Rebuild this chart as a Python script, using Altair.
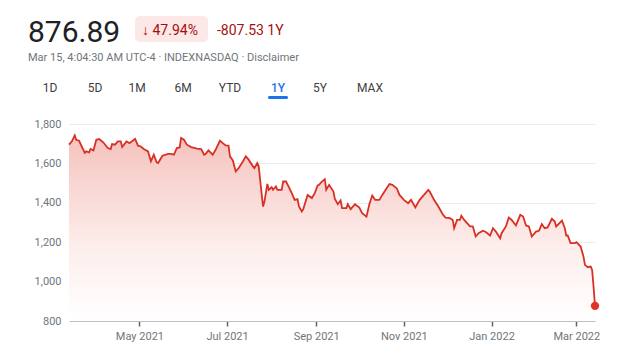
import altair as alt
import pandas as pd

dates = [
    "2021-03-13", "2021-03-15", "2021-03-17", "2021-03-18", "2021-03-20", "2021-03-24", "2021-03-25", "2021-03-27", "2021-03-28", "2021-03-30",
    "2021-04-01", "2021-04-03", "2021-04-06", "2021-04-07", "2021-04-09", "2021-04-11", "2021-04-12", "2021-04-14", "2021-04-16", "2021-04-18",
    "2021-04-19", "2021-04-22", "2021-04-24", "2021-04-28", "2021-04-30",
    "2021-05-02", "2021-05-04", "2021-05-07", "2021-05-09", "2021-05-11", "2021-05-13", "2021-05-14", "2021-05-17", "2021-05-21", "2021-05-23",
    "2021-05-25", "2021-05-27", "2021-05-29", "2021-05-30",
    "2021-06-01", "2021-06-03", "2021-06-06", "2021-06-10", "2021-06-13", "2021-06-15", "2021-06-16", "2021-06-18", "2021-06-21", "2021-06-23",
    "2021-06-26", "2021-06-28", "2021-06-30",
    "2021-07-02", "2021-07-03", "2021-07-05", "2021-07-07", "2021-07-09", "2021-07-12", "2021-07-14", "2021-07-16", "2021-07-19", "2021-07-20",
    "2021-07-22", "2021-07-23", "2021-07-24", "2021-07-26", "2021-07-27", "2021-07-29", "2021-07-30",
    "2021-08-01", "2021-08-02", "2021-08-04", "2021-08-05", "2021-08-08", "2021-08-09", "2021-08-11", "2021-08-13", "2021-08-15", "2021-08-17",
    "2021-08-19", "2021-08-20", "2021-08-22", "2021-08-23", "2021-08-25", "2021-08-26", "2021-08-29", "2021-08-31",
    "2021-09-02", "2021-09-03", "2021-09-05", "2021-09-07", "2021-09-08", "2021-09-10", "2021-09-13", "2021-09-14", "2021-09-16", "2021-09-18",
    "2021-09-19", "2021-09-22", "2021-09-23", "2021-09-25", "2021-09-28",
    "2021-10-01", "2021-10-03", "2021-10-06", "2021-10-08", "2021-10-10", "2021-10-12", "2021-10-15", "2021-10-17", "2021-10-20", "2021-10-22",
    "2021-10-24", "2021-10-27", "2021-10-29",
    "2021-11-01", "2021-11-04", "2021-11-06", "2021-11-09", "2021-11-12", "2021-11-15", "2021-11-18", "2021-11-19", "2021-11-22", "2021-11-25",
    "2021-11-28", "2021-11-30",
    "2021-12-03", "2021-12-05", "2021-12-06", "2021-12-08", "2021-12-10", "2021-12-11", "2021-12-13", "2021-12-15", "2021-12-17", "2021-12-19",
    "2021-12-21", "2021-12-23", "2021-12-26", "2021-12-28", "2021-12-31",
    "2022-01-02", "2022-01-04", "2022-01-07", "2022-01-08", "2022-01-11", "2022-01-13", "2022-01-15", "2022-01-18", "2022-01-21", "2022-01-23",
    "2022-01-25", "2022-01-27", "2022-01-29",
    "2022-02-01", "2022-02-03", "2022-02-05", "2022-02-07", "2022-02-09", "2022-02-12", "2022-02-14", "2022-02-15", "2022-02-19", "2022-02-21",
    "2022-02-22", "2022-02-23", "2022-02-25", "2022-02-28",
    "2022-03-01", "2022-03-04", "2022-03-06", "2022-03-07", "2022-03-09", "2022-03-11", "2022-03-12", "2022-03-13", "2022-03-14",
]

values = [
    1695, 1712, 1742, 1720, 1715, 1653, 1661, 1656, 1673, 1666,
    1720, 1724, 1706, 1696, 1678, 1673, 1698, 1695, 1712, 1712, 1683, 1712, 1703, 1724, 1690,
    1686, 1673, 1661, 1610, 1644, 1605, 1602, 1639, 1648, 1648, 1644, 1678, 1681, 1729,
    1720, 1695, 1683, 1675, 1673, 1644, 1648, 1666, 1644, 1669, 1715, 1703, 1691,
    1690, 1636, 1615, 1559, 1576, 1610, 1636, 1619, 1585, 1576, 1602, 1585, 1517, 1381, 1406, 1496, 1466,
    1479, 1466, 1483, 1466, 1466, 1508, 1508, 1480, 1449, 1415, 1419, 1381, 1356, 1368, 1415, 1440, 1424, 1449,
    1488, 1491, 1508, 1520, 1466, 1491, 1457, 1419, 1393, 1412, 1373, 1373, 1393, 1368, 1393,
    1376, 1347, 1330, 1393, 1437, 1415, 1415, 1440, 1474, 1495, 1491, 1474, 1440,
    1415, 1398, 1415, 1376, 1415, 1440, 1466, 1457, 1415, 1381, 1342, 1325,
    1322, 1313, 1271, 1313, 1313, 1334, 1313, 1297, 1280, 1280, 1229, 1246, 1258, 1252, 1234,
    1271, 1254, 1220, 1246, 1280, 1325, 1313, 1285, 1339, 1330, 1285, 1280, 1229,
    1254, 1258, 1292, 1271, 1275, 1319, 1305, 1280, 1310, 1271, 1234, 1234, 1195, 1195,
    1200, 1178, 1127, 1085, 1073, 1076, 1059, 974, 876.89,
]

y_ticks = [800, 1000, 1200, 1400, 1600, 1800]
x_tick_months = [(2021, 5), (2021, 7), (2021, 9), (2021, 11), (2022, 1), (2022, 3)]

price_text = "876.89"
change_pct = "\u2193 47.94%"
change_abs = "-807.53 1Y"
subtitle = "Mar 15, 4:04:30 AM UTC-4 \u00b7 INDEXNASDAQ \u00b7 Disclaimer"
tabs = ["1D", "5D", "1M", "6M", "YTD", "1Y", "5Y", "MAX"]
active_tab = "1Y"

# layout (pixels relative to the plot origin)
tab_x = [-19, 26, 68, 114, 161, 209, 251, 301]

RED = "#d93025"
GREY = "#70757a"
FONT = "Roboto"

df = pd.DataFrame({"date": dates, "value": values})
last = df.tail(1)
one = pd.DataFrame({"k": [0]})

x_scale = alt.Scale(
    type="utc",
    domain=[alt.DateTime(year=2021, month=3, date=13, utc=True),
            alt.DateTime(year=2022, month=3, date=14, utc=True)],
)
y_scale = alt.Scale(domain=[800, 1800], nice=False, zero=False)

x_axis = alt.Axis(
    values=[alt.DateTime(year=y, month=m, date=1, utc=True) for y, m in x_tick_months],
    format="%b %Y", title=None, grid=False,
    domainColor="#bdc1c6", domainWidth=1,
    tickColor="#5f6368", tickSize=5, tickWidth=1.5,
    labelColor=GREY, labelFont=FONT, labelFontSize=11, labelPadding=4,
    labelOverlap=False,
)
y_axis = alt.Axis(
    values=y_ticks, format=",d", title=None,
    domain=False, ticks=False, gridColor="#ececec", gridWidth=1,
    labelColor=GREY, labelFont=FONT, labelFontSize=11, labelPadding=8,
    labelOverlap=False, labelBound=False, labelFlush=False,
)

X = alt.X("date:T", scale=x_scale, axis=x_axis)
Y = alt.Y("value:Q", scale=y_scale, axis=y_axis)

base = alt.Chart(df)

area = base.mark_area(
    color=alt.LinearGradient(
        gradient="linear", x1=1, x2=1, y1=0, y2=1,
        stops=[alt.GradientStop(color="#f5c2bd", offset=0),
               alt.GradientStop(color="#fdeeec", offset=0.6),
               alt.GradientStop(color="#ffffff", offset=1)],
    )
).encode(x=X, y=Y, y2=alt.datum(800))

line = base.mark_line(color=RED, strokeWidth=1.8).encode(x=X, y=Y)

dot = alt.Chart(last).mark_point(filled=True, color="#e0342a", size=70, opacity=1).encode(x=X, y=Y)

def label(txt, x, y, size, color, weight="normal", align="left"):
    return alt.Chart(one).mark_text(
        text=txt, font=FONT, fontSize=size, color=color, fontWeight=weight,
        align=align, baseline="alphabetic",
    ).encode(x=alt.value(x), y=alt.value(y))

badge = alt.Chart(one).mark_rect(color="#fce8e6", cornerRadius=5).encode(
    x=alt.value(66), x2=alt.value(139), y=alt.value(-108), y2=alt.value(-82)
)
underline = alt.Chart(one).mark_rect(color="#1a73e8", cornerRadius=1.5).encode(
    x=alt.value(199), x2=alt.value(219), y=alt.value(-28), y2=alt.value(-25)
)

header = [
    label(price_text, -41, -82, 30, "#202124"),
    badge,
    label(change_pct, 73, -89, 14, "#a50e0e"),
    label(change_abs, 148, -89, 14, "#a50e0e"),
    label(subtitle, -41, -63, 11, GREY),
    underline,
]
for t, tx in zip(tabs, tab_x):
    header.append(label(t, tx, -32, 12,
                        "#1a73e8" if t == active_tab else "#3c4043",
                        weight=500 if t == active_tab else "normal",
                        align="center"))

chart = (
    alt.layer(area, line, dot, *header)
    .properties(
        width=526, height=197,
        autosize=alt.AutoSizeParams(type="none"),
        padding={"left": 61, "top": 116, "right": 28, "bottom": 26},
    )
    .configure(background="white")
    .configure_view(strokeWidth=0)
    .configure_axis(labelOverlap=False)
)

chart.save("out.html", embed_options={"renderer": "svg", "actions": False})
